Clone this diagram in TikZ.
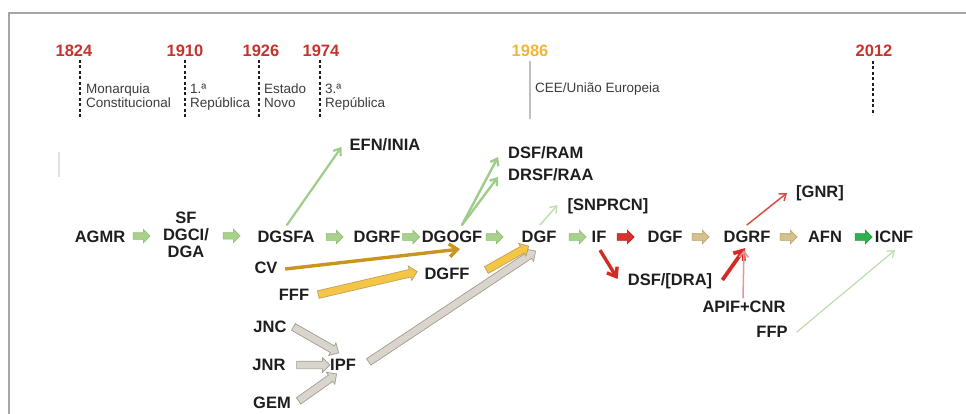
\documentclass[tikz,border=0pt]{standalone}
\usepackage{fontspec}
\setmainfont{Liberation Sans}
\usetikzlibrary{arrows.meta,shapes.arrows,calc}
\definecolor{yearred}{HTML}{C4342D}
\definecolor{yearyel}{HTML}{F0B63C}
\definecolor{txt}{HTML}{1E1E1E}
\definecolor{eratxt}{HTML}{3C3C3C}
\definecolor{gfill}{HTML}{A8D18C}
\definecolor{gdraw}{HTML}{8CBE70}
\definecolor{tfill}{HTML}{D5C18E}
\definecolor{tdraw}{HTML}{B39C66}
\definecolor{rfill}{HTML}{D8322A}
\definecolor{rdraw}{HTML}{B22420}
\definecolor{bgfill}{HTML}{2FB24C}
\definecolor{bgdraw}{HTML}{22993A}
\definecolor{yfill}{HTML}{F5C645}
\definecolor{ydraw}{HTML}{BFA160}
\definecolor{grfill}{HTML}{D9D4CC}
\definecolor{grdraw}{HTML}{A29C93}
\definecolor{lineg}{HTML}{9ECD88}
\definecolor{paleg}{HTML}{C2DFB4}
\definecolor{goldl}{HTML}{C9951F}
\definecolor{redl}{HTML}{D42C24}
\definecolor{pinkl}{HTML}{E8959A}
\definecolor{framec}{HTML}{A5A5A5}
\newcommand\blkarrow[3]{\path let \p1=#2, \p2=#3, \n1={veclen(\x2-\x1,\y2-\y1)} in (\p1) -- node[#1, sloped, allow upside down, minimum height=\n1] {} (\p2);}
\begin{document}
\begin{tikzpicture}[x=1pt,y=-1pt,
  lbl/.style={font=\bfseries\fontsize{16.5}{16.5}\selectfont, text=txt, inner sep=0pt, text height=11.8pt, text depth=0pt},
  lbl3/.style={font=\bfseries\fontsize{16.5}{17}\selectfont, text=txt, inner sep=0pt, align=center},
  year/.style={font=\bfseries\fontsize{16.5}{16.5}\selectfont, text=yearred, inner sep=0pt},
  era/.style={font=\fontsize{13.5}{13.5}\selectfont, text=eratxt, align=left, inner sep=0pt, anchor=north west},
  tick/.style={line width=1.6pt, dash pattern=on 3pt off 2.4pt, draw=txt},
  mblk/.style={single arrow, minimum height=17pt, inner xsep=0pt, inner ysep=3pt, single arrow head extend=3.5pt, line width=0.6pt},
  gblk/.style={mblk, fill=gfill, draw=gdraw},
  tblk/.style={mblk, fill=tfill, draw=tdraw},
  rblk/.style={mblk, fill=rfill, draw=rdraw},
  bgblk/.style={mblk, fill=bgfill, draw=bgdraw},
  lblk/.style={single arrow, inner xsep=0pt, inner ysep=3.5pt, single arrow head extend=3.5pt, line width=0.7pt},
  yblk/.style={lblk, fill=yfill, draw=ydraw},
  grblk/.style={lblk, fill=grfill, draw=grdraw},
  thin/.style={-{Straight Barb[length=6pt,width=9pt]}, line cap=round},
]
\useasboundingbox (0,0) rectangle (966,414);
% frame
\draw[framec, line width=1.8pt] (9,414) -- (9,13) -- (966,13);
\draw[black!12, line width=1.4pt] (59,152) -- (59,177);
% years
\node[year] (y1824) at (74,51) {1824};
\node[year] (y1910) at (185,51) {1910};
\node[year] (y1926) at (261,51) {1926};
\node[year] (y1974) at (321,51) {1974};
\node[year, text=yearyel] (y1986) at (530,51) {1986};
\node[year] (y2012) at (874,51) {2012};
\draw[tick] (80,60) -- (80,117);
\draw[tick] (185,60) -- (185,117);
\draw[tick] (259,60) -- (259,117);
\draw[tick] (320,60) -- (320,117);
\draw[tick] (873,61) -- (873,115);
\draw[black!25, line width=1.2pt] (530,61) -- (530,119);
\node[era] (e1) at (86,84) {Monarquia\\Constitucional};
\node[era] (e2) at (190,84) {1.ª\\República};
\node[era] (e3) at (264,84) {Estado\\Novo};
\node[era] (e4) at (325,84) {3.ª\\República};
\node[era] (e5) at (535,83) {CEE/União Europeia};
% main row
\node[lbl] (AGMR) at (100,237) {AGMR};
\node[lbl3] (SF) at (186,235) {SF\\DGCI/\\DGA};
\node[lbl] (DGSFA) at (286,237) {DGSFA};
\node[lbl] (DGRF) at (377,237) {DGRF};
\node[lbl] (DGOGF) at (452,237) {DGOGF};
\node[lbl] (DGF) at (539,237) {DGF};
\node[lbl] (IF) at (599,237) {IF};
\node[lbl] (DGFb) at (665,237) {DGF};
\node[lbl] (DGRFb) at (747,237) {DGRF};
\node[lbl] (AFN) at (825,237) {AFN};
\node[lbl] (ICNF) at (894,237) {ICNF};
% upper
\node[lbl] (EFN) at (385,145) {EFN/INIA};
\node[lbl, anchor=west] (DSFRAM) at (508,153) {DSF/RAM};
\node[lbl, anchor=west] (DRSF) at (508,175) {DRSF/RAA};
\node[lbl] (SNP) at (608,205) {[SNPRCN]};
\node[lbl] (GNR) at (820,192) {[GNR]};
% lower
\node[lbl] (CV) at (266,268) {CV};
\node[lbl] (FFF) at (294,295) {FFF};
\node[lbl] (DGFF) at (447,274) {DGFF};
\node[lbl] (JNC) at (270,327) {JNC};
\node[lbl] (JNR) at (269,365) {JNR};
\node[lbl] (GEM) at (272,403) {GEM};
\node[lbl] (IPF) at (343,365) {IPF};
\node[lbl] (DRA) at (670,280) {DSF/[DRA]};
\node[lbl] (APIF) at (744,307) {APIF+CNR};
\node[lbl] (FFP) at (772,332) {FFP};
% main row block arrows
\path (AGMR.center) -- node[gblk, pos=0.465] {} (SF.center);
\path (SF.center) -- node[gblk, pos=0.44] {} (DGSFA.center);
\path (DGSFA.center) -- node[gblk, pos=0.516] {} (DGRF.center);
\path (DGRF.center) -- node[gblk, pos=0.433] {} (DGOGF.center);
\path (DGOGF.center) -- node[gblk, pos=0.471] {} (DGF.center);
\path (DGF.center) -- node[gblk, pos=0.617] {} (IF.center);
\path (IF.center) -- node[rblk, pos=0.379] {} (DGFb.center);
\path (DGFb.center) -- node[tblk, pos=0.415] {} (DGRFb.center);
\path (DGRFb.center) -- node[tblk, pos=0.513] {} (AFN.center);
\path (AFN.center) -- node[bgblk, pos=0.536] {} (ICNF.center);
% line arrows
\draw[thin, lineg, line width=2.2pt] ([shift={(1,-6)}]DGSFA.north) -- ([shift={(-8,2)}]EFN.west);
\draw[thin, lineg, line width=2.4pt] ([shift={(10,-6)}]DGOGF.north) -- ([shift={(-10,4)}]DSFRAM.west);
\draw[thin, lineg, line width=2.4pt] ([shift={(10,-6)}]DGOGF.north) -- ([shift={(-10,2)}]DRSF.west);
\draw[thin, paleg, line width=1.5pt] ([shift={(1,-6)}]DGF.north) -- ([shift={(-10,0)}]SNP.west);
\draw[thin, redl!85, line width=1.5pt] ([shift={(0,-6)}]DGRFb.north) -- ([shift={(-9,1)}]GNR.west);
\draw[-{Straight Barb[length=8pt,width=13pt]}, goldl, line width=3.4pt] ([shift={(7.5,1)}]CV.east) -- ([shift={(8,6)}]DGOGF.south);
\draw[-{Straight Barb[length=8pt,width=12pt]}, redl, line width=3.4pt] ([shift={(1,7)}]IF.south) -- ([shift={(-10,-1)}]DRA.west);
\draw[-{Straight Barb[length=8pt,width=13pt]}, redl, line width=3.8pt] ([shift={(10,0)}]DRA.east) -- ([shift={(-2,5)}]DGRFb.south);
\draw[thin, pinkl, line width=1.5pt] ([shift={(-1,-3)}]APIF.north) -- ([shift={(-3,7)}]DGRFb.south);
\draw[thin, paleg, line width=1.3pt] ([shift={(9,0)}]FFP.east) -- ([shift={(1,7)}]ICNF.south);
% long block arrows
\blkarrow{grblk}{([shift={(11,-2)}]IPF.east)}{([shift={(-5,9)}]DGF.south)}
\blkarrow{yblk}{([shift={(7,0)}]FFF.east)}{([shift={(-9,-2)}]DGFF.west)}
\blkarrow{yblk}{([shift={(15,-3)}]DGFF.east)}{([shift={(-12,4)}]DGF.south)}
\blkarrow{grblk}{([shift={(5,-1)}]JNC.east)}{([shift={(-6,-7)}]IPF.north)}
\blkarrow{grblk}{([shift={(9,0)}]JNR.east)}{([shift={(-2,0)}]IPF.west)}
\blkarrow{grblk}{([shift={(6,-1)}]GEM.east)}{([shift={(-8,4)}]IPF.south)}
\end{tikzpicture}
\end{document}
